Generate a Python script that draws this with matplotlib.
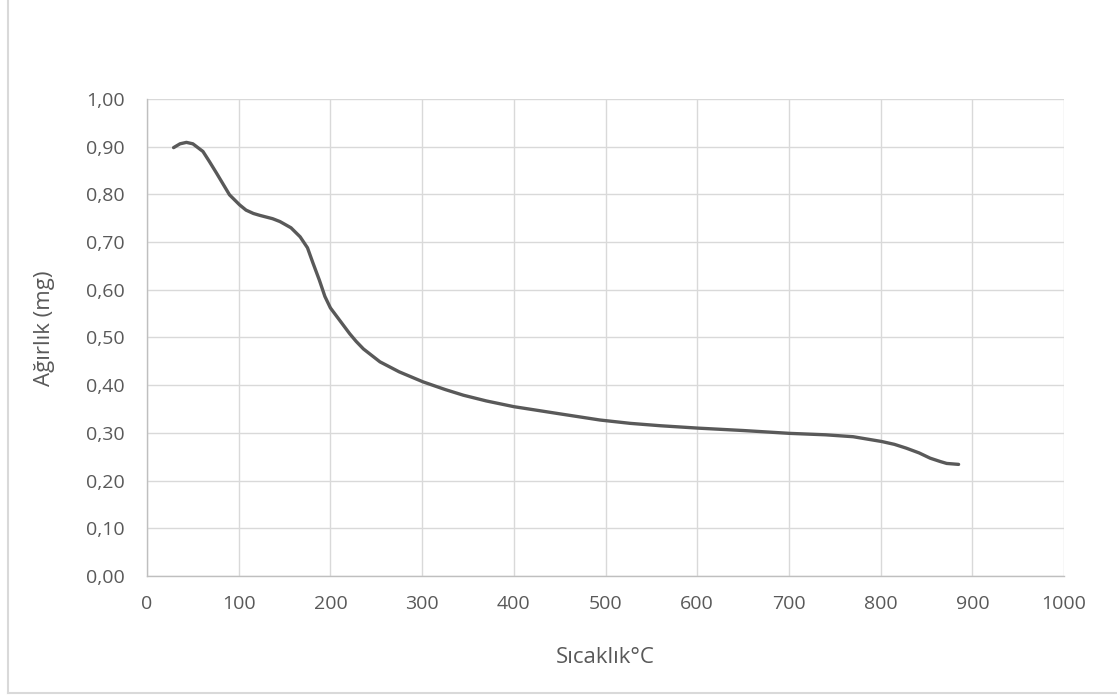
import matplotlib.pyplot as plt
from matplotlib.lines import Line2D

# okunan değerler (sıcaklık °C, ağırlık mg)
temp = [29, 36, 43, 50, 61, 68, 76, 90, 101, 108, 116, 123, 137, 145, 157, 167,
        175, 181, 188, 194, 200, 207, 214, 221, 228, 236, 254, 275, 301, 325,
        345, 370, 400, 450, 494, 527, 560, 601, 650, 701, 740, 770, 801, 815,
        828, 842, 854, 865, 872, 885]
weight = [0.898, 0.906, 0.909, 0.906, 0.890, 0.869, 0.844, 0.799, 0.778, 0.767,
          0.760, 0.756, 0.749, 0.743, 0.730, 0.711, 0.688, 0.656, 0.620, 0.586,
          0.562, 0.544, 0.526, 0.508, 0.492, 0.476, 0.449, 0.428, 0.407, 0.391,
          0.379, 0.367, 0.355, 0.340, 0.327, 0.320, 0.315, 0.310, 0.305, 0.299,
          0.296, 0.292, 0.282, 0.276, 0.268, 0.258, 0.247, 0.240, 0.236, 0.234]

xticks = list(range(0, 1001, 100))
yticks = [i / 10 for i in range(11)]
ytick_labels = [('%.2f' % v).replace('.', ',') for v in yticks]

plt.rcParams['font.family'] = ['Open Sans', 'DejaVu Sans']

fig = plt.figure(figsize=(11.17, 6.95), dpi=100)
ax = fig.add_axes([0.1316, 0.1712, 0.821, 0.6864])

ax.plot(temp, weight, color='#595959', linewidth=2.4, solid_capstyle='round',
        solid_joinstyle='round')

ax.set_xlim(0, 1000)
ax.set_ylim(0, 1.0)
ax.set_xticks(xticks)
ax.set_yticks(yticks)
ax.set_yticklabels(ytick_labels)
ax.tick_params(length=0, labelsize=14, colors='#595959')
ax.tick_params(axis='y', pad=16)
ax.tick_params(axis='x', pad=14)
ax.grid(True, color='#d9d9d9', linewidth=1.0)
ax.set_axisbelow(True)

for side in ['top', 'right']:
    ax.spines[side].set_visible(False)
for side in ['left', 'bottom']:
    ax.spines[side].set_color('#bfbfbf')
    ax.spines[side].set_linewidth(1.0)

ax.set_xlabel('Sıcaklık°C', fontsize=16, color='#595959')
ax.set_ylabel('Ağırlık (mg)', fontsize=16, color='#595959')
ax.xaxis.set_label_coords(0.5, -0.149)
ax.yaxis.set_label_coords(-0.100, 0.52)

# dış çerçeve (sadece sol ve alt kenar görünüyor)
fig.lines.append(Line2D([0.0072, 0.0072], [0.003, 1.0], transform=fig.transFigure,
                        color='#d9d9d9', linewidth=1.5))
fig.lines.append(Line2D([0.0072, 1.0], [0.003, 0.003], transform=fig.transFigure,
                        color='#d9d9d9', linewidth=1.5))

fig.savefig('out.png', dpi=100)
